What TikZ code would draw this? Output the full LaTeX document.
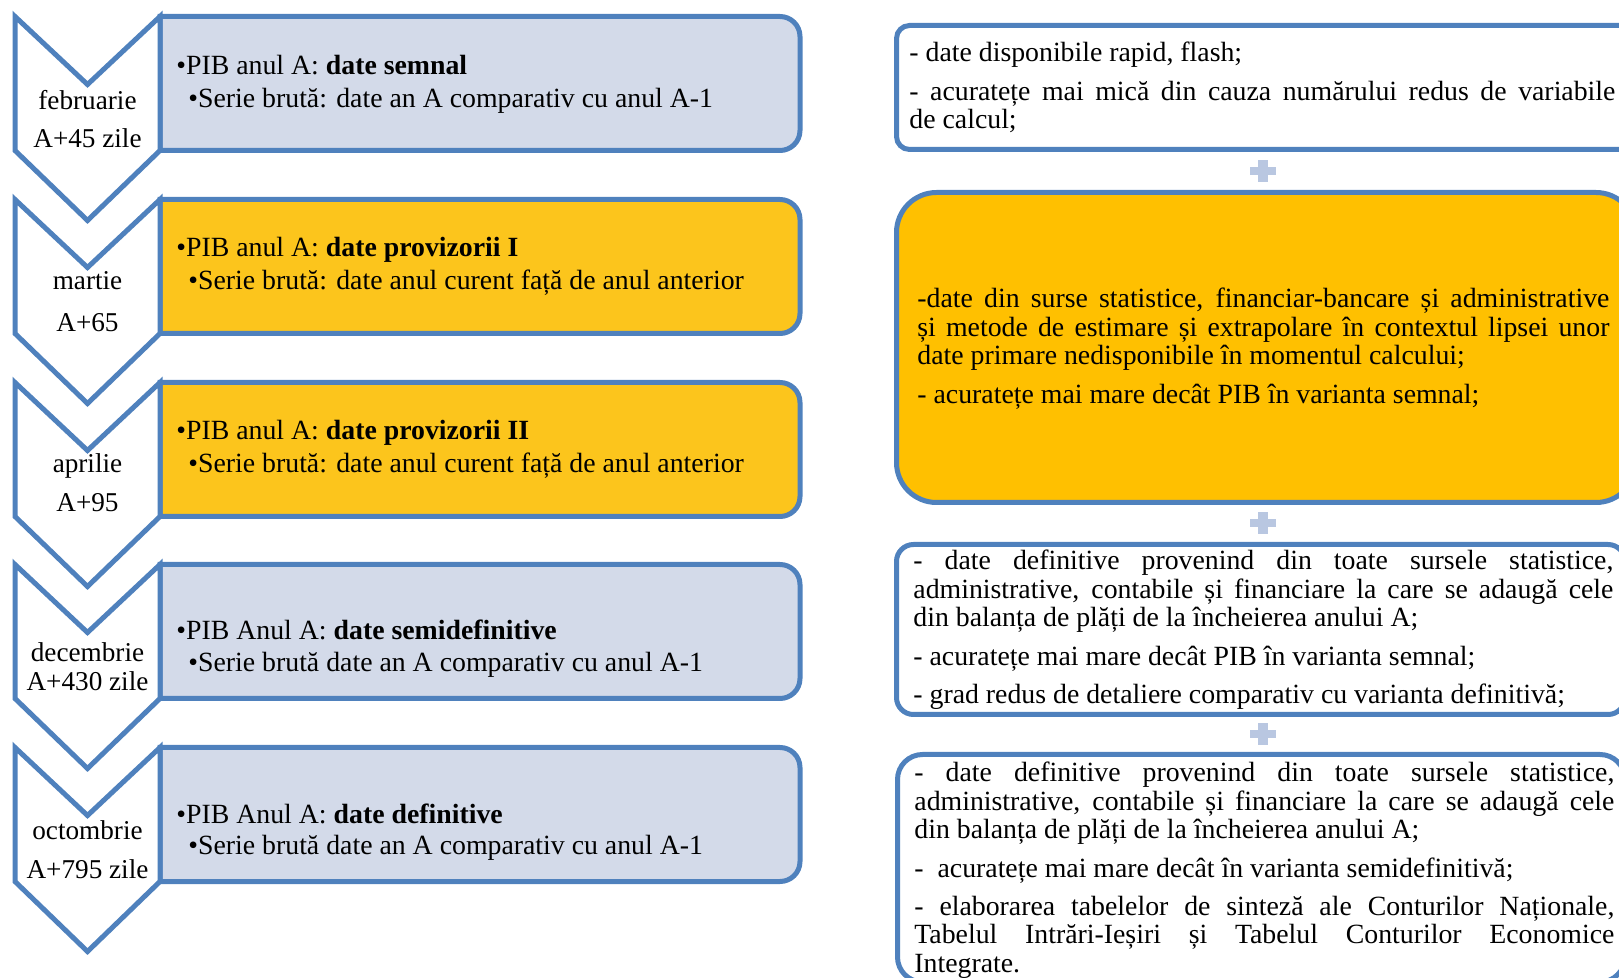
\documentclass[tikz,border=0pt]{standalone}
\usepackage{fontspec}
\setmainfont{Liberation Serif}
\definecolor{edgeblue}{HTML}{4F81BD}
\definecolor{paleblue}{HTML}{D3DAE9}
\definecolor{goldl}{HTML}{FCC51C}
\definecolor{goldr}{HTML}{FFC000}
\definecolor{plusblue}{HTML}{B9C7E1}
\tikzset{chev/.style={draw=edgeblue, line width=2.5pt, fill=white},
  lbox/.style={draw=edgeblue, line width=2.5pt},
  rbox/.style={draw=edgeblue, line width=2.5pt},
  txt/.style={font=\fontsize{13.9}{14.15}\selectfont, inner sep=0pt},
  lbl/.style={font=\fontsize{13.6}{14.15}\selectfont, inner sep=0pt, anchor=base},
  item/.style={txt, anchor=base west},
  obs/.style={txt, anchor=base west, align=justify,
    execute at begin node={\setlength{\parskip}{5.1pt}\hyphenpenalty=10000\exhyphenpenalty=10000\tolerance=9999}},
  plus/.style={fill=plusblue}}

\begin{document}
\begin{tikzpicture}[x=0.5pt,y=-0.5pt]
    \useasboundingbox (0,0) rectangle (1619,978);
    % left boxes, rounded on the right side only
    \draw[lbox, fill=paleblue] (160,16.5) -- (780,16.5) arc[start angle=-90, end angle=0, radius=20] -- (800,130.5) arc[start angle=0, end angle=90, radius=20] -- (160,150.5) -- cycle;
    \draw[lbox, fill=goldl] (160,199.5) -- (780,199.5) arc[start angle=-90, end angle=0, radius=20] -- (800,313.5) arc[start angle=0, end angle=90, radius=20] -- (160,333.5) -- cycle;
    \draw[lbox, fill=goldl] (160,382.5) -- (780,382.5) arc[start angle=-90, end angle=0, radius=20] -- (800,496.5) arc[start angle=0, end angle=90, radius=20] -- (160,516.5) -- cycle;
    \draw[lbox, fill=paleblue] (160,564.5) -- (780,564.5) arc[start angle=-90, end angle=0, radius=20] -- (800,678.5) arc[start angle=0, end angle=90, radius=20] -- (160,698.5) -- cycle;
    \draw[lbox, fill=paleblue] (160,747.5) -- (780,747.5) arc[start angle=-90, end angle=0, radius=20] -- (800,861.5) arc[start angle=0, end angle=90, radius=20] -- (160,881.5) -- cycle;
    % chevrons
    \draw[chev] (15,16.5) -- (87.5,84.5) -- (160,16.5) -- (160,150.5) -- (87.5,220.5) -- (15,150.5) -- cycle;
    \draw[chev] (15,199.5) -- (87.5,267.5) -- (160,199.5) -- (160,333.5) -- (87.5,403.5) -- (15,333.5) -- cycle;
    \draw[chev] (15,382.5) -- (87.5,450.5) -- (160,382.5) -- (160,516.5) -- (87.5,586.5) -- (15,516.5) -- cycle;
    \draw[chev] (15,564.5) -- (87.5,632.5) -- (160,564.5) -- (160,698.5) -- (87.5,768.5) -- (15,698.5) -- cycle;
    \draw[chev] (15,747.5) -- (87.5,815.5) -- (160,747.5) -- (160,881.5) -- (87.5,951.5) -- (15,881.5) -- cycle;
    \node[lbl] (lun1) at (87.5,110) {februarie};
    \node[lbl] (zile1) at (87.5,148) {A+45 zile};
    \node[lbl] (lun2) at (87.5,290) {martie};
    \node[lbl] (zile2) at (87.5,332) {A+65};
    \node[lbl] (lun3) at (87.5,473) {aprilie};
    \node[lbl] (zile3) at (87.5,512) {A+95};
    \node[lbl] (lun4) at (87.5,662) {decembrie};
    \node[lbl] (zile4) at (87.5,690) {A+430 zile};
    \node[lbl] (lun5) at (87.5,839) {octombrie};
    \node[lbl] (zile5) at (87.5,878) {A+795 zile};
    % left box texts
    \node[item] (pib1) at (176,75) {\textbullet PIB anul A: \textbf{date semnal}};
    \node[item] (ser1) at (188,108) {\textbullet Serie brută: date an A comparativ cu anul A-1};
    \node[item] (pib2) at (176,257) {\textbullet PIB anul A: \textbf{date provizorii I}};
    \node[item] (ser2) at (188,290) {\textbullet Serie brută: date anul curent față de anul anterior};
    \node[item] (pib3) at (176,440) {\textbullet PIB anul A: \textbf{date provizorii II}};
    \node[item] (ser3) at (188,473) {\textbullet Serie brută: date anul curent față de anul anterior};
    \node[item] (pib4) at (176,640) {\textbullet PIB Anul A: \textbf{date semidefinitive}};
    \node[item] (ser4) at (188,672) {\textbullet Serie brută date an A comparativ cu anul A-1};
    \node[item] (pib5) at (176,823) {\textbullet PIB Anul A: \textbf{date definitive}};
    \node[item] (ser5) at (188,855) {\textbullet Serie brută date an A comparativ cu anul A-1};
    % right boxes
    \draw[rbox, fill=white, rounded corners=6.5pt] (896.5,25.5) rectangle (1635,149.5);
    \draw[rbox, fill=goldr, rounded corners=20pt] (896.5,192.5) rectangle (1636,502.5);
    \draw[rbox, fill=white, rounded corners=8.5pt] (896.5,544.5) rectangle (1625,714.5);
    \draw[rbox, fill=white, rounded corners=12.5pt] (897.5,754.5) rectangle (1625,982);
    \node[obs, text width=353pt] (obs1) at (909,62) {- date disponibile rapid, flash;\par
      - acuratețe mai mică din cauza numărului redus de variabile\linebreak de calcul;};
    \node[obs, text width=346pt] (obs2) at (917,308) {-date din surse statistice, financiar-bancare și administrative\linebreak
      și metode de estimare și extrapolare în contextul lipsei unor\linebreak date primare nedisponibile în momentul calcului;\par
      - acuratețe mai mare decât PIB în varianta semnal;};
    \node[obs, text width=350pt] (obs3) at (913,570) {- date definitive provenind din toate sursele statistice,\linebreak
      administrative, contabile și financiare la care se adaugă cele\linebreak din balanța de plăți de la încheierea anului A;\par
      - acuratețe mai mare decât PIB în varianta semnal;\par
      - grad redus de detaliere comparativ cu varianta definitivă;};
    \node[obs, text width=350pt] (obs4) at (914,782) {- date definitive provenind din toate sursele statistice,\linebreak
      administrative, contabile și financiare la care se adaugă cele\linebreak din balanța de plăți de la încheierea anului A;\par
      - \ acuratețe mai mare decât în varianta semidefinitivă;\par
      - elaborarea tabelelor de sinteză ale Conturilor Naționale,\linebreak
      Tabelul Intrări-Ieșiri și Tabelul Conturilor Economice\linebreak Integrate.};
    % plus marks
    \fill[plus] (1250,167) rectangle (1276,175);
    \fill[plus] (1258,160) rectangle (1268,182);
    \fill[plus] (1250,519) rectangle (1276,527);
    \fill[plus] (1258,512) rectangle (1268,534);
    \fill[plus] (1250,730) rectangle (1276,738);
    \fill[plus] (1258,723) rectangle (1268,745);
\end{tikzpicture}
\end{document}
